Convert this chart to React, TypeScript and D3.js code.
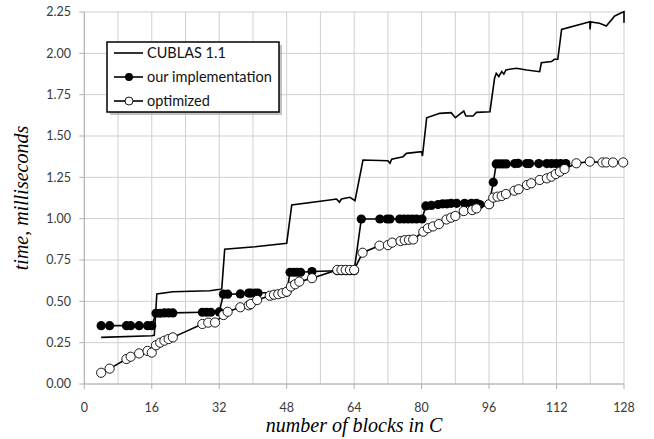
import React from "react";
import * as d3 from "d3";

// number of blocks / time (ms)
const cublasBlocks = [4, 16, 16.6, 17.2, 21, 29.8, 32.2, 32.6, 33.3, 40.5, 48, 49.2, 58.2, 59.8, 60.5, 61, 63, 64.2, 66.1, 72, 72.5, 72.9, 75.6, 76.4, 80, 80.2, 81.2, 84.3, 87, 88, 90, 90.5, 92.2, 93, 96.2, 97.3, 97.7, 98.3, 99, 99.5, 100, 102.5, 104.9, 108, 108.4, 110.8, 111.5, 112.3, 113.2, 119.9, 119.95, 120.1, 122.2, 123.8, 125.8, 127.4, 128, 128];
const cublasTimes = [0.282, 0.292, 0.295, 0.544, 0.558, 0.564, 0.573, 0.575, 0.815, 0.83, 0.851, 1.083, 1.113, 1.119, 1.1, 1.119, 1.129, 1.109, 1.355, 1.35, 1.335, 1.36, 1.375, 1.395, 1.405, 1.379, 1.61, 1.637, 1.641, 1.611, 1.651, 1.621, 1.621, 1.643, 1.647, 1.849, 1.879, 1.86, 1.89, 1.875, 1.9, 1.91, 1.899, 1.889, 1.943, 1.95, 1.964, 1.964, 2.145, 2.191, 2.145, 2.19, 2.182, 2.165, 2.226, 2.245, 2.252, 2.185];

const oursBlocks = [4, 6, 10, 11, 13, 15, 16, 17, 18, 19, 20, 21, 28, 29, 30, 32, 33, 34, 37, 39, 39.5, 40.5, 41.2, 48, 48.8, 49.7, 50.5, 51.3, 54, 60, 61, 62, 63, 64, 65.7, 70.1, 71.8, 72.5, 74.8, 75.8, 76.8, 77.8, 78.8, 80.1, 81, 82.3, 83.9, 85, 86, 87, 88.3, 90.2, 91.8, 93, 93.8, 96, 97, 97.7, 98.5, 99.3, 100.1, 102.1, 102.9, 104.9, 105.6, 107.8, 109.7, 110.8, 111.9, 113, 114.2];
const oursTimes = [0.353, 0.353, 0.353, 0.353, 0.353, 0.353, 0.353, 0.428, 0.428, 0.43, 0.43, 0.43, 0.434, 0.434, 0.434, 0.436, 0.543, 0.543, 0.545, 0.55, 0.55, 0.55, 0.55, 0.556, 0.676, 0.676, 0.676, 0.676, 0.68, 0.685, 0.685, 0.685, 0.685, 0.685, 0.998, 0.998, 0.998, 0.998, 0.998, 0.998, 0.998, 0.998, 0.998, 0.998, 1.077, 1.08, 1.085, 1.09, 1.09, 1.093, 1.093, 1.093, 1.093, 1.093, 1.085, 1.087, 1.22, 1.331, 1.331, 1.331, 1.331, 1.333, 1.335, 1.333, 1.333, 1.333, 1.333, 1.333, 1.333, 1.333, 1.333];

const optBlocks = [4, 6, 10, 11, 13, 15, 16, 17, 18, 19, 20, 21, 28, 29.4, 31, 33, 34, 37, 39, 39.5, 41, 44, 45, 46, 47, 48, 49, 50, 51, 54, 60, 61, 62, 63, 64, 66, 70, 72, 73, 75, 76, 77, 78, 80.4, 81.5, 82.7, 84.1, 85.9, 87, 88, 90, 92, 93, 96, 97, 98, 99, 100, 102, 103, 105, 106, 108, 109.7, 110.8, 111.8, 112.8, 113.9, 116.7, 119.9, 122.9, 123.8, 125.4, 127.8];
const optTimes = [0.068, 0.093, 0.151, 0.165, 0.185, 0.2, 0.19, 0.234, 0.25, 0.262, 0.272, 0.282, 0.363, 0.371, 0.372, 0.417, 0.437, 0.464, 0.476, 0.484, 0.508, 0.534, 0.54, 0.543, 0.55, 0.558, 0.589, 0.603, 0.619, 0.64, 0.69, 0.69, 0.69, 0.69, 0.69, 0.794, 0.837, 0.84, 0.855, 0.865, 0.87, 0.872, 0.874, 0.921, 0.942, 0.953, 0.967, 0.995, 1.006, 1.016, 1.046, 1.052, 1.062, 1.087, 1.127, 1.133, 1.137, 1.149, 1.169, 1.178, 1.204, 1.214, 1.234, 1.244, 1.254, 1.27, 1.284, 1.3, 1.335, 1.345, 1.34, 1.34, 1.34, 1.34];

const xTicks = [0, 16, 32, 48, 64, 80, 96, 112, 128];
const xGrid = d3.range(0, 129, 8);
const yTicks = d3.range(0, 2.26, 0.25);
const seriesNames = ["CUBLAS 1.1", "our implementation", "optimized"];

const tickFont = "Lato, 'Open Sans', sans-serif";
const titleFont = "'Liberation Serif', 'DejaVu Serif', serif";

function App() {
  const width = 654;
  const height = 439;
  const left = 84.3;
  const right = 624;
  const top = 12;
  const bottom = 384;

  const x = d3.scaleLinear().domain([0, 128]).range([left, right]);
  const y = d3.scaleLinear().domain([0, 2.25]).range([bottom, top]);

  const line = d3
    .line<[number, number]>()
    .x((d) => x(d[0]))
    .y((d) => y(d[1]));

  const cublas = cublasBlocks.map((b, i) => [b, cublasTimes[i]] as [number, number]);
  const ours = oursBlocks.map((b, i) => [b, oursTimes[i]] as [number, number]);
  const opt = optBlocks.map((b, i) => [b, optTimes[i]] as [number, number]);

  const r = 4.6;
  const legendX = 107;
  const legendY = 42;

  return (
    <svg width={width} height={height} style={{ position: "absolute", left: 0, top: 0 }}>
      <rect width={width} height={height} fill="white" />

      {/* grid */}
      <g stroke="#cfcfcf" strokeWidth={1}>
        {xGrid.map((v) => (
          <line key={"gx" + v} x1={x(v)} x2={x(v)} y1={top} y2={bottom} />
        ))}
        {yTicks.map((v) => (
          <line key={"gy" + v} x1={left} x2={right} y1={y(v)} y2={y(v)} />
        ))}
      </g>

      {/* axes */}
      <g stroke="#b0b0b0" strokeWidth={1}>
        <line x1={left} x2={left} y1={top} y2={bottom} />
        <line x1={left} x2={right} y1={bottom} y2={bottom} />
        {yTicks.map((v) => (
          <line key={"ty" + v} x1={left - 5} x2={left} y1={y(v)} y2={y(v)} />
        ))}
        {xTicks.map((v) => (
          <line key={"tx" + v} x1={x(v)} x2={x(v)} y1={bottom} y2={bottom + 5} />
        ))}
      </g>

      <g fontFamily={tickFont} fontSize={12.5} fill="#3a3a3a">
        {yTicks.map((v) => (
          <text key={"ly" + v} x={71} y={y(v)} dy="0.35em" textAnchor="end">
            {d3.format(".2f")(v)}
          </text>
        ))}
        {xTicks.map((v) => (
          <text key={"lx" + v} x={x(v)} y={408} dy="0.35em" textAnchor="middle">
            {v}
          </text>
        ))}
      </g>

      <text
        x={(left + right) / 2}
        y={432}
        textAnchor="middle"
        fontFamily={titleFont}
        fontStyle="italic"
        fontSize={20}
      >
        number of blocks in C
      </text>
      <text
        transform={`translate(28, ${(top + bottom) / 2}) rotate(-90)`}
        textAnchor="middle"
        fontFamily={titleFont}
        fontStyle="italic"
        fontSize={20}
      >
        time, milliseconds
      </text>

      {/* series */}
      <path d={line(cublas) ?? ""} fill="none" stroke="black" strokeWidth={1.6} />
      <path d={line(ours) ?? ""} fill="none" stroke="black" strokeWidth={1.6} />
      {ours.map((d, i) => (
        <circle key={"o" + i} cx={x(d[0])} cy={y(d[1])} r={r} fill="black" />
      ))}
      <path d={line(opt) ?? ""} fill="none" stroke="black" strokeWidth={1.6} />
      {opt.map((d, i) => (
        <circle key={"p" + i} cx={x(d[0])} cy={y(d[1])} r={r} fill="white" stroke="black" strokeWidth={0.9} />
      ))}

      {/* legend */}
      <rect x={legendX + 3} y={legendY + 3} width={172} height={70} fill="#9a9a9a" opacity={0.6} />
      <rect x={legendX} y={legendY} width={172} height={70} fill="white" stroke="black" strokeWidth={1.5} />
      {seriesNames.map((name, i) => {
        const ly = legendY + 11 + i * 24;
        return (
          <g key={name}>
            <line x1={legendX + 7} x2={legendX + 36} y1={ly} y2={ly} stroke="black" strokeWidth={1.6} />
            {i === 1 && <circle cx={legendX + 22} cy={ly} r={4} fill="black" />}
            {i === 2 && <circle cx={legendX + 22} cy={ly} r={4} fill="white" stroke="black" strokeWidth={0.9} />}
            <text x={legendX + 40} y={ly} dy="0.35em" fontFamily={tickFont} fontSize={14.5} fill="#111">
              {name}
            </text>
          </g>
        );
      })}
    </svg>
  );
}

export default App;
